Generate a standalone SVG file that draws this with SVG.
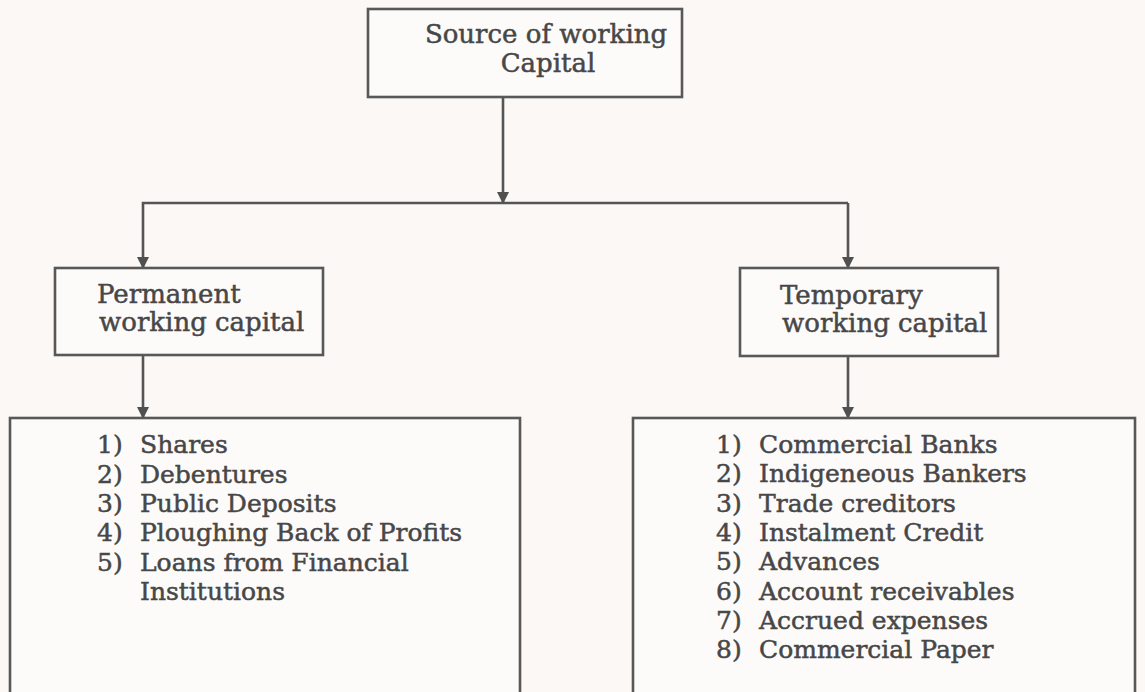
<svg xmlns="http://www.w3.org/2000/svg" width="1145" height="692" viewBox="0 0 1145 692">
  <defs>
    <marker id="arrow" viewBox="0 0 12 12" refX="11" refY="6" markerWidth="12" markerHeight="12" markerUnits="userSpaceOnUse" orient="auto">
      <path d="M0,0 L12,6 L0,12 Z" fill="#505050"/>
    </marker>
    <style>
      .box { fill: #fdfbfa; stroke: #585858; stroke-width: 2.6; }
      .link { fill: none; stroke: #555555; stroke-width: 2.6; }
      .head { font-family: "DejaVu Serif", "Liberation Serif", serif; font-size: 26px; fill: #474747; stroke: #474747; stroke-width: 0.5; }
      .item { font-family: "DejaVu Serif", "Liberation Serif", serif; font-size: 25px; fill: #474747; stroke: #474747; stroke-width: 0.5; }
    </style>
  </defs>

  <rect width="1145" height="692" fill="#fbf8f6"/>

  <!-- connectors -->
  <g id="connectors">
    <path class="link" d="M503,97 V203" marker-end="url(#arrow)"/>
    <path class="link" d="M848,203 H143 V268" marker-end="url(#arrow)"/>
    <path class="link" d="M848,203 V268" marker-end="url(#arrow)"/>
    <path class="link" d="M143,355 V418" marker-end="url(#arrow)"/>
    <path class="link" d="M848,356 V418" marker-end="url(#arrow)"/>
  </g>

  <g id="source">
    <rect class="box" x="368" y="9" width="314" height="88"/>
    <text class="head" x="546" y="43" text-anchor="middle">Source of working</text>
    <text class="head" x="548" y="72" text-anchor="middle">Capital</text>
  </g>

  <g id="permanent">
    <rect class="box" x="55" y="268" width="268" height="87"/>
    <text class="head" x="97" y="303">Permanent</text>
    <text class="head" x="99" y="331">working capital</text>
  </g>

  <g id="temporary">
    <rect class="box" x="740" y="268" width="258" height="88"/>
    <text class="head" x="780" y="304">Temporary</text>
    <text class="head" x="782" y="332">working capital</text>
  </g>

  <g id="permanent-sources">
    <rect class="box" x="10" y="418" width="510" height="290"/>
    <g class="item">
      <text x="97" y="453">1)</text><text x="140" y="453">Shares</text>
      <text x="97" y="483">2)</text><text x="140" y="483">Debentures</text>
      <text x="97" y="512">3)</text><text x="140" y="512">Public Deposits</text>
      <text x="97" y="541">4)</text><text x="140" y="541">Ploughing Back of Profits</text>
      <text x="97" y="571">5)</text><text x="140" y="571">Loans from Financial</text>
      <text x="140" y="600">Institutions</text>
    </g>
  </g>

  <g id="temporary-sources">
    <rect class="box" x="633" y="418" width="502" height="290"/>
    <g class="item">
      <text x="716" y="453">1)</text><text x="759" y="453">Commercial Banks</text>
      <text x="716" y="482">2)</text><text x="759" y="482">Indigeneous Bankers</text>
      <text x="716" y="512">3)</text><text x="759" y="512">Trade creditors</text>
      <text x="716" y="541">4)</text><text x="759" y="541">Instalment Credit</text>
      <text x="716" y="570">5)</text><text x="759" y="570">Advances</text>
      <text x="716" y="600">6)</text><text x="759" y="600">Account receivables</text>
      <text x="716" y="629">7)</text><text x="759" y="629">Accrued expenses</text>
      <text x="716" y="658">8)</text><text x="759" y="658">Commercial Paper</text>
    </g>
  </g>
</svg>
